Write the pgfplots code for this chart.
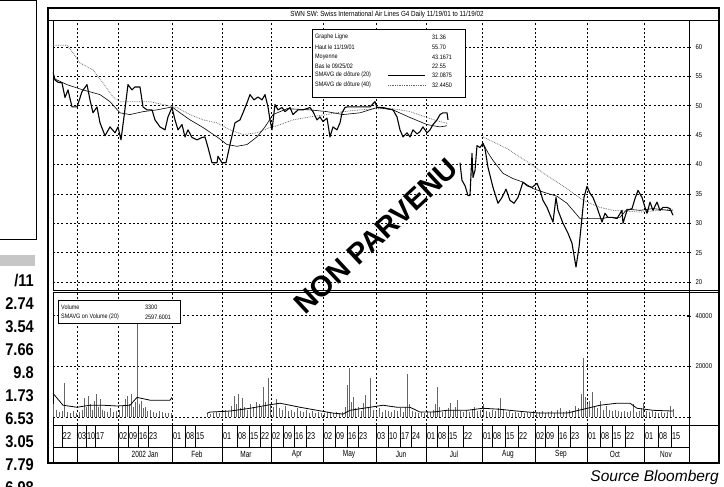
\documentclass[border=0pt]{standalone}
\usepackage{pgfplots}
\pgfplotsset{compat=1.18}
\usepackage{fontspec}
\setmainfont{Liberation Sans}
\newfontfamily\cond[FakeStretch=0.72]{Liberation Sans}
\newfontfamily\condb[FakeStretch=0.85]{Liberation Sans}
\newfontfamily\numf[FakeStretch=0.86]{Liberation Sans}
\begin{document}
\begin{tikzpicture}
\useasboundingbox (0,0) rectangle (724pt,487pt);
\pgfplotsset{
  mygrid/.style={grid=major, grid style={black, line width=0.75pt, dash pattern=on 2pt off 2.2pt}},
  common/.style={scale only axis, width=636pt, xmin=53, xmax=689,
    xtick={77,118,172,222,271,323,376,426,482,535,587,644}, xticklabels={},
    xtick style={draw=none}, ytick pos=right, tick align=center, major tick length=4pt,
    ytick style={black, line width=0.6pt}, axis line style={line width=0.9pt},
    yticklabel style={font=\condb\fontsize{7}{8}\selectfont, xshift=1pt},
    /pgf/number format/assume math mode=true, mygrid, clip=true}
}
% ---------------- price panel
\begin{axis}[common, at={(53pt,467pt)}, anchor=north west, height=270pt,
  ymin=18.64, ymax=64.6, ytick={20,25,30,35,40,45,50,55,60}]
% 40-day moving average (dotted)
\addplot[gray!80!black, densely dotted, line width=0.75pt] table[row sep=\\]{
x y\\ 53 60.3\\ 67 60.3\\ 73 59.0\\ 80 57.3\\ 93 56.1\\ 103 53.9\\ 113 51.5\\ 120 50.7\\ 133 50.7\\ 150 50.7\\ 163 50.2\\ 177 49.7\\ 190 48.5\\ 203 47.6\\ 217 47.1\\ 230 45.9\\ 243 45.1\\ 257 45.4\\ 270 46.3\\ 277 46.6\\ 293 47.6\\ 310 48.1\\ 327 48.5\\ 343 49.0\\ 360 49.3\\ 377 49.5\\ 393 49.5\\ 410 49.0\\ 427 48.0\\ 440 47.3\\ 448 47.0\\};
\addplot[gray!80!black, densely dotted, line width=0.75pt] table[row sep=\\]{
x y\\ 483 44.7\\ 507 42.7\\ 527 40.5\\ 547 38.1\\ 567 35.9\\ 583 33.9\\ 600 32.7\\ 613 32.2\\ 640 31.9\\ 673 32.4\\};
% 20-day moving average (thin solid)
\addplot[black, line width=0.6pt] table[row sep=\\]{
x y\\ 53 54.7\\ 67 53.6\\ 83 52.7\\ 100 51.9\\ 110 50.7\\ 120 48.8\\ 130 48.5\\ 143 49.0\\ 157 49.3\\ 172 49.8\\ 180 48.8\\ 190 47.6\\ 203 46.3\\ 217 44.7\\ 227 43.4\\ 237 43.1\\ 247 43.4\\ 257 44.7\\ 265 46.4\\ 273 48.5\\ 287 49.5\\ 310 49.3\\ 327 49.0\\ 343 48.5\\ 360 48.8\\ 377 49.7\\ 393 49.3\\ 410 48.0\\ 427 46.8\\ 440 46.4\\ 447 46.6\\};
\addplot[black, line width=0.6pt] table[row sep=\\]{
x y\\ 483 43.6\\ 488 42.0\\ 493 40.7\\ 503 38.5\\ 513 37.6\\ 523 37.0\\ 533 35.9\\ 547 35.1\\ 557 34.6\\ 567 33.4\\ 573 32.2\\ 578 31.2\\ 580 30.8\\ 603 30.8\\ 607 31.0\\ 620 31.0\\ 627 32.4\\ 640 32.2\\ 653 32.5\\ 673 32.1\\};
% price
\addplot[black, line width=1.1pt, line join=round] table[row sep=\\]{
x y\\ 53 55.7\\ 55 54.4\\ 58 54.0\\ 62 53.9\\ 65 51.4\\ 68 52.7\\ 72 49.8\\ 77 49.8\\ 82 52.4\\ 87 53.6\\ 90 51.0\\ 93 48.8\\ 97 49.8\\ 100 47.1\\ 105 44.9\\ 110 46.4\\ 115 45.4\\ 118 46.4\\ 121 44.2\\ 124 48.1\\ 128 53.6\\ 132 52.7\\ 135 53.2\\ 140 53.2\\ 143 49.8\\ 147 49.3\\ 152 49.3\\ 155 47.6\\ 160 46.4\\ 165 45.9\\ 168 48.1\\ 172 49.7\\ 175 47.6\\ 178 45.9\\ 182 46.8\\ 185 44.7\\ 188 45.9\\ 192 44.6\\ 197 44.2\\ 202 44.6\\ 205 44.7\\ 208 42.9\\ 212 40.3\\ 217 40.3\\ 218 41.4\\ 222 40.3\\ 226 40.3\\ 230 43.4\\ 235 47.1\\ 240 47.6\\ 243 48.8\\ 247 50.5\\ 250 51.9\\ 254 51.0\\ 258 51.5\\ 262 51.0\\ 265 51.9\\ 268 49.8\\ 270 47.6\\ 272 45.9\\ 275 50.2\\ 278 49.3\\ 282 49.7\\ 285 49.0\\ 290 49.7\\ 293 48.5\\ 298 49.3\\ 303 49.3\\ 310 49.7\\ 313 49.0\\ 317 47.6\\ 320 48.1\\ 323 47.3\\ 327 47.9\\ 330 44.7\\ 333 46.4\\ 337 45.9\\ 340 47.1\\ 342 48.8\\ 345 49.7\\ 347 49.8\\ 360 49.8\\ 370 49.8\\ 375 50.7\\ 377 49.7\\ 383 49.7\\ 393 49.3\\ 397 48.1\\ 400 45.9\\ 403 44.7\\ 407 45.4\\ 410 44.7\\ 413 45.9\\ 417 45.2\\ 420 45.6\\ 423 46.4\\ 427 45.4\\ 430 45.9\\ 433 46.8\\ 437 47.6\\ 440 48.5\\ 443 48.8\\ 447 48.8\\ 448 47.6\\};
\addplot[black, line width=1.1pt, line join=round] table[row sep=\\]{
x y\\ 460 40.3\\ 462 37.3\\ 465 36.4\\ 468 34.7\\ 470 34.7\\ 472 41.9\\ 473 37.8\\ 475 39.0\\ 477 43.2\\ 480 42.9\\ 483 43.6\\ 485 42.7\\ 488 39.5\\ 493 36.1\\ 498 33.4\\ 502 34.4\\ 506 35.8\\ 510 33.9\\ 514 33.4\\ 518 34.4\\ 523 37.0\\ 527 36.4\\ 532 36.1\\ 537 36.8\\ 540 35.6\\ 543 33.9\\ 547 32.7\\ 553 30.2\\ 556 34.4\\ 558 32.2\\ 563 30.0\\ 568 28.3\\ 572 26.6\\ 576 22.55\\ 579 25.9\\ 582 31.0\\ 584 34.4\\ 587 36.3\\ 590 35.1\\ 593 34.4\\ 597 32.7\\ 602 30.2\\ 605 31.7\\ 608 31.0\\ 612 31.0\\ 617 30.8\\ 622 32.2\\ 623 30.0\\ 627 32.2\\ 632 32.5\\ 635 34.2\\ 638 35.6\\ 642 34.4\\ 645 32.7\\ 647 31.7\\ 650 33.6\\ 653 32.2\\ 657 33.6\\ 660 32.2\\ 663 32.7\\ 667 32.7\\ 670 32.5\\ 673 31.36\\};
\end{axis}
% ---------------- volume panel
\begin{axis}[common, at={(53pt,195pt)}, anchor=north west, height=133pt,
  ymin=-3100, ymax=49400, ytick={0,20000,40000}, yticklabels={,20000,40000},
  scaled y ticks=false]
\addplot[ycomb, black!60, line width=0.45pt, mark=none] table[row sep=\\]{
x y\\ 53 5000\\ 56 3000\\ 59 2000\\ 62 2500\\ 64 13300\\ 67 2000\\ 70 1500\\ 73 2500\\ 76 1800\\ 79 2000\\ 82 3000\\ 84 7500\\ 86 4000\\ 88 8500\\ 90 5000\\ 92 3000\\ 94 6500\\ 96 9000\\ 98 4000\\ 100 7000\\ 102 3000\\ 104 2500\\ 107 2000\\ 110 3500\\ 113 2000\\ 116 2500\\ 119 3000\\ 122 4500\\ 125 7000\\ 127 8500\\ 129 5000\\ 131 9000\\ 133 4000\\ 135 6000\\ 137 37000\\ 139 5000\\ 141 6500\\ 143 3500\\ 145 4000\\ 147 2500\\ 150 3000\\ 153 2000\\ 156 1500\\ 159 2500\\ 162 2000\\ 165 1500\\ 168 1800\\ 171 1500\\
207 1500\\ 210 1200\\ 213 1800\\ 216 2000\\ 219 1500\\ 222 2500\\ 225 3000\\ 228 2000\\ 231 4500\\ 234 8500\\ 236 5000\\ 238 9000\\ 240 3500\\ 242 7500\\ 244 4000\\ 247 3000\\ 250 5000\\ 253 4000\\ 256 6000\\ 259 5000\\ 261 4000\\ 263 11700\\ 265 6000\\ 268 15300\\ 270 5000\\ 273 4000\\ 276 7000\\ 279 3500\\ 282 3000\\ 285 4500\\ 288 2500\\ 291 3000\\ 294 2000\\ 297 3500\\ 300 2500\\ 303 2000\\ 306 3000\\ 309 1800\\ 312 2500\\ 315 1500\\ 318 2000\\ 321 1800\\ 324 1500\\ 327 2000\\ 330 1500\\ 333 1800\\ 336 2200\\ 339 1500\\ 342 2000\\ 345 4000\\ 347 12500\\ 349 19200\\ 351 6000\\ 353 8000\\ 355 3500\\ 358 4000\\ 361 2500\\ 363 5500\\ 365 8600\\ 368 4000\\ 370 15300\\ 373 3000\\ 376 2500\\ 379 3500\\ 382 2000\\ 385 3000\\ 388 2500\\ 391 2000\\ 394 3000\\ 397 2500\\ 400 3500\\ 403 2000\\ 405 4000\\ 407 17200\\ 409 5000\\ 412 2500\\ 415 2000\\ 418 1500\\ 421 2000\\ 424 1500\\ 427 2500\\ 430 2000\\ 433 3000\\ 435 5000\\ 437 11800\\ 439 4000\\ 442 2000\\ 445 2500\\ 448 3500\\ 450 5500\\ 453 3000\\ 455 4000\\ 457 6700\\ 460 2500\\ 463 2000\\ 466 3000\\ 469 2000\\ 472 3000\\ 474 4000\\ 477 2500\\ 480 3000\\ 483 5000\\ 486 2500\\ 489 2000\\ 492 3000\\ 495 2500\\ 498 3500\\ 500 7500\\ 503 3000\\ 506 2000\\ 509 2500\\ 512 1800\\ 515 2000\\ 518 1500\\ 521 2500\\ 524 1800\\ 527 2000\\ 530 1500\\ 533 2500\\ 536 1800\\ 539 2000\\ 542 2500\\ 545 1500\\ 548 2000\\ 551 2500\\ 554 1800\\ 557 3000\\ 560 3500\\ 563 2000\\ 566 2500\\ 569 3000\\ 572 2500\\ 575 4500\\ 578 3500\\ 581 9000\\ 583 23500\\ 585 8000\\ 587 5000\\ 589 6500\\ 592 9800\\ 594 4000\\ 597 3500\\ 600 6500\\ 603 3000\\ 606 4500\\ 609 3000\\ 612 2500\\ 615 3000\\ 618 2500\\ 621 2000\\ 624 2500\\ 627 2000\\ 630 2500\\ 633 5000\\ 636 2000\\ 639 2500\\ 641 3500\\ 643 5500\\ 646 2500\\ 649 2000\\ 652 2500\\ 655 2000\\ 658 1500\\ 661 2000\\ 664 1500\\ 667 2000\\ 670 4500\\ 673 3300\\};
\addplot[black, line width=0.8pt] table[row sep=\\]{
x y\\ 53 9400\\ 63 4700\\ 77 3900\\ 90 4700\\ 103 4700\\ 117 4400\\ 130 4700\\ 137 7800\\ 150 6700\\ 170 6700\\ 172 7800\\};
\addplot[black, line width=0.8pt] table[row sep=\\]{
x y\\ 207 1500\\ 210 2000\\ 230 2400\\ 250 3500\\ 267 4700\\ 280 5500\\ 300 3900\\ 317 2700\\ 333 1600\\ 343 1200\\ 350 2700\\ 370 3900\\ 383 4700\\ 397 3900\\ 410 3900\\ 420 2000\\ 433 2000\\ 447 2700\\ 467 2700\\ 483 3500\\ 500 3100\\ 517 2400\\ 540 1600\\ 567 1600\\ 583 3100\\ 600 4700\\ 617 5500\\ 630 5500\\ 637 3500\\ 653 2700\\ 673 2400\\};
\end{axis}
% ---------------- frame
\draw[line width=1.6pt] (48pt,479pt) rectangle (719pt,24pt);
\draw[line width=0.8pt] (48pt,467pt) -- (719pt,467pt);
\draw[line width=0.8pt] (689pt,197pt) -- (719pt,197pt);
\draw[line width=0.8pt] (689pt,195pt) -- (719pt,195pt);
\draw[line width=0.8pt] (689pt,62pt) -- (719pt,62pt);
\draw[line width=0.8pt] (689pt,197pt) -- (689pt,25pt);
\node[font=\condb\fontsize{7.4}{8}\selectfont, inner sep=0pt] at (387pt,472.8pt)
  {SWN SW: Swiss International Air Lines G4 Daily 11/19/01 to 11/19/02};
% price legend box
\draw[line width=0.8pt, fill=white] (312pt,458pt) rectangle (465pt,390pt);
\begin{scope}[every node/.style={font=\condb\fontsize{6.4}{7}\selectfont, inner sep=0pt, anchor=west}]
\node at (315pt,450pt) {Graphe Ligne};          \node at (432pt,450pt) {31.36};
\node at (315pt,440pt) {Haut le 11/19/01};      \node at (432pt,440pt) {55.70};
\node at (315pt,430pt) {Moyenne};               \node at (432pt,430pt) {43.1671};
\node at (315pt,421pt) {Bas le 09/25/02};       \node at (432pt,421pt) {22.55};
\node at (315pt,412pt) {SMAVG de clôture (20)}; \node at (432pt,412pt) {32.0875};
\node at (315pt,402pt) {SMAVG de clôture (40)}; \node at (432pt,402pt) {32.4450};
\end{scope}
\draw[line width=0.6pt] (388pt,412pt) -- (425pt,412pt);
\draw[gray!80!black, densely dotted, line width=0.75pt] (388pt,402pt) -- (425pt,402pt);
% volume legend box
\draw[line width=0.8pt, fill=white] (58pt,187pt) rectangle (180pt,164pt);
\begin{scope}[every node/.style={font=\condb\fontsize{6.4}{7}\selectfont, inner sep=0pt, anchor=west}]
\node at (61pt,180pt) {Volume};               \node at (145pt,180pt) {3300};
\node at (61pt,170pt) {SMAVG on Volume (20)}; \node at (145pt,170pt) {2597.6001};
\end{scope}
% ---------------- date strips
\draw[line width=0.7pt] (53pt,62pt) rectangle (689pt,25pt);
\draw[line width=0.7pt] (53pt,40pt) -- (689pt,40pt);
\foreach \t/\l in {62/22,77/03,86/10,95/17,118/02,128/09,138/16,148/23,172/01,185/08,195/15,222/01,237/08,249/15,260/22,271/02,283/09,294/16,306/23,323/02,335/09,347/16,358/23,376/03,388/10,400/17,411/24,426/01,437/08,448/15,463/22,482/01,492/08,505/15,518/22,535/02,545/09,558/16,570/23,587/01,600/08,612/15,625/22,644/01,658/08,671/15}{
  \draw[line width=0.5pt] (\t pt,62pt) -- (\t pt,40pt);
  \node[anchor=west, inner sep=0pt, font=\cond\fontsize{10}{10}\selectfont] at ({\t pt+0.8pt},51pt) {\l};
}
\foreach \t in {77,118,172,222,271,323,376,426,482,535,587,644}{
  \draw[line width=0.5pt] (\t pt,40pt) -- (\t pt,25pt);
}
\foreach \c/\l in {145/2002 Jan,197/Feb,246/Mar,297/Apr,349/May,401/Jun,454/Jul,508/Aug,561/Sep,615/Oct,666/Nov}{
  \node[inner sep=0pt, font=\cond\fontsize{9}{9}\selectfont] at (\c pt,32.5pt) {\l};
}
% ---------------- watermark
\node[rotate=43, font=\bfseries\fontsize{29}{29}\selectfont, inner sep=0pt] at (376pt,251pt) {NON PARVENU};
% ---------------- source
\node[anchor=east, font=\itshape\fontsize{15.5}{16}\selectfont, inner sep=0pt] at (719pt,10pt) {Source Bloomberg};
% ---------------- left remnants
\draw[line width=1pt] (0pt,486pt) -- (36pt,486pt) -- (36pt,247pt) -- (0pt,247pt);
\fill[gray!45] (0pt,232pt) rectangle (35pt,221pt);
\foreach \r/\v in {0/{/11},1/2.74,2/3.54,3/7.66,4/9.8,5/1.73,6/6.53,7/3.05,8/7.79,9/6.98}{
  \node[anchor=east, inner sep=0pt, font=\numf\bfseries\fontsize{17}{17}\selectfont] at (34pt,{(206-23*\r)*1pt}) {\v};
}
\end{tikzpicture}
\end{document}
